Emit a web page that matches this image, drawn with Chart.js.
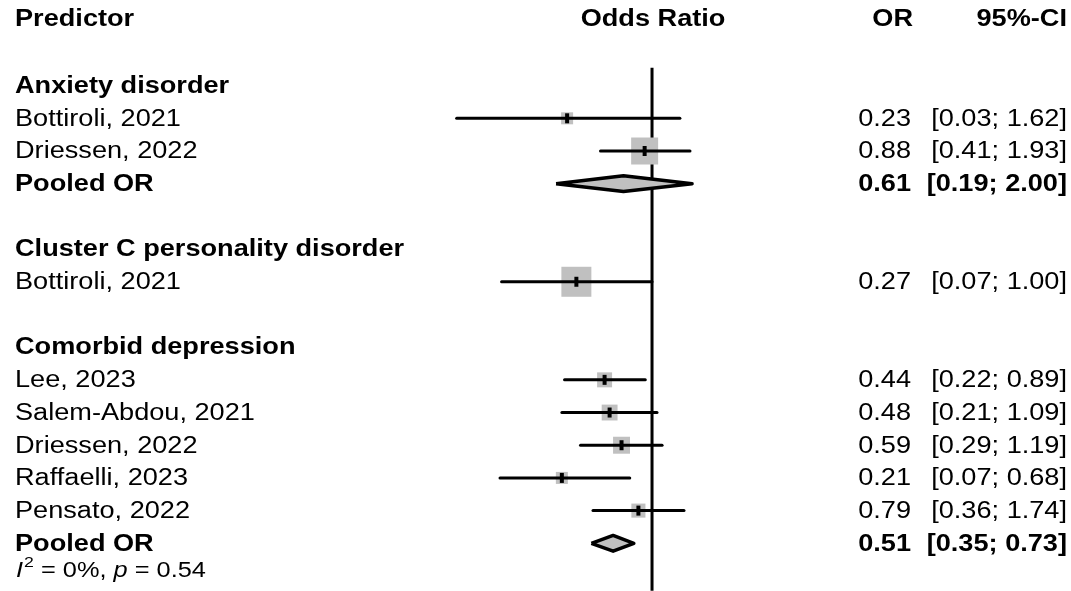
<!DOCTYPE html>
<html>
<head>
<meta charset="utf-8">
<script src="https://cdn.jsdelivr.net/npm/chart.js@4/dist/chart.umd.min.js"></script>
<style>
  html,body{margin:0;padding:0;background:#fff;}
  #wrap{width:1071px;height:591px;position:relative;}
</style>
</head>
<body>
<div id="wrap"><canvas id="c" width="1071" height="591"></canvas></div>
<script>
// ---------------- DATA ----------------
const groups = ["Anxiety disorder", "Cluster C personality disorder", "Comorbid depression"];
const studyNames = ["Bottiroli, 2021", "Driessen, 2022", "Bottiroli, 2021", "Lee, 2023", "Salem-Abdou, 2021", "Driessen, 2022", "Raffaelli, 2023", "Pensato, 2022"];
const studyGroup = [0, 0, 1, 2, 2, 2, 2, 2];
const studyOR = [0.23, 0.88, 0.27, 0.44, 0.48, 0.59, 0.21, 0.79];
const studyLo = [0.034, 0.41, 0.074, 0.22, 0.21, 0.29, 0.072, 0.36];
const studyHi = [1.62, 1.93, 1.00, 0.89, 1.09, 1.19, 0.68, 1.74];
const studyWeight = [16, 81, 100, 25, 28, 32, 16, 22];
const pooledGroup = [0, 2];
const pooledOR = [0.61, 0.51];
const pooledLo = [0.19, 0.35];
const pooledHi = [2.00, 0.73];
const hetGroup = 2;
const hetI2 = "0%";
const hetP = "0.54";
const headers = ["Predictor", "Odds Ratio", "OR", "95%-CI"];
const refValue = 1;

// ---------------- LAYOUT (rows) ----------------
const rows = [];
let r = 0;
const studyRow = [], pooledRow = {};
groups.forEach((g, gi) => {
  rows.push({y: r++, label: g, bold: true});
  studyNames.forEach((s, si) => {
    if (studyGroup[si] === gi) {
      studyRow[si] = r;
      rows.push({y: r++, label: s, bold: false, or: studyOR[si], lo: studyLo[si], hi: studyHi[si]});
    }
  });
  const pi = pooledGroup.indexOf(gi);
  if (pi >= 0) {
    pooledRow[pi] = r;
    rows.push({y: r++, label: "Pooled OR", bold: true, or: pooledOR[pi], lo: pooledLo[pi], hi: pooledHi[pi]});
  }
  r++; // blank
});
const lastRow = pooledRow[1];

const f2 = v => v.toFixed(2);
const BLACK = "#000000", GREY = "#c0c0c0";

// ---------------- DATASETS ----------------
const datasets = [];
datasets.push({
  type: 'line', data: [{x: refValue, y: -0.55}, {x: refValue, y: 15.45}],
  borderColor: BLACK, borderWidth: 3, pointRadius: 0, showLine: true, order: 10
});
datasets.push({
  type: 'scatter',
  data: studyOR.map((v, i) => ({x: v, y: studyRow[i]})),
  pointStyle: 'rect',
  pointRadius: studyWeight.map(w => 30 * Math.sqrt(w / 100) / Math.SQRT2),
  backgroundColor: GREY, borderColor: GREY, borderWidth: 0, order: 8
});
studyOR.forEach((v, i) => {
  datasets.push({
    type: 'line', data: [{x: studyLo[i], y: studyRow[i]}, {x: studyHi[i], y: studyRow[i]}],
    borderColor: BLACK, borderWidth: 3, pointRadius: 0, showLine: true, borderCapStyle: 'round', order: 6
  });
});
datasets.push({
  type: 'scatter',
  data: studyOR.map((v, i) => ({x: v, y: studyRow[i]})),
  pointStyle: 'line', rotation: 90, pointRadius: 5,
  borderColor: BLACK, borderWidth: 4, order: 4
});
const dh = 0.24;
pooledOR.forEach((v, i) => {
  const y = pooledRow[i];
  datasets.push({
    type: 'line',
    data: [{x: pooledLo[i], y: y}, {x: v, y: y - dh}, {x: pooledHi[i], y: y}, {x: v, y: y + dh}, {x: pooledLo[i], y: y}],
    borderColor: BLACK, borderWidth: 3.5, backgroundColor: GREY, fill: 'shape',
    pointRadius: 0, showLine: true, borderJoinStyle: 'round', tension: 0, order: 2
  });
});

// ---------------- TEXT PLUGIN ----------------
const FONT = '"Liberation Sans", Arial, Helvetica, sans-serif';
const SX = 1.18;
function txt(ctx, s, x, y, align, size, bold, italic) {
  ctx.save();
  ctx.font = (italic ? 'italic ' : '') + (bold ? 'bold ' : '') + size + 'px ' + FONT;
  ctx.textAlign = align;
  ctx.textBaseline = 'middle';
  ctx.fillStyle = BLACK;
  ctx.translate(x, y);
  ctx.scale(SX, 1);
  ctx.fillText(s, 0, 0);
  const w = ctx.measureText(s).width * SX;
  ctx.restore();
  return w;
}
const textPlugin = {
  id: 'forestText',
  afterDraw(chart) {
    const ctx = chart.ctx;
    const ys = chart.scales.y, xs = chart.scales.x;
    const py = v => ys.getPixelForValue(v) + 1;
    const LX = 15, ORX = 911, CIX = 1067, FS = 23;
    const hy = ys.getPixelForValue(-2.02);
    txt(ctx, headers[0], LX, hy, 'left', FS, true);
    txt(ctx, headers[1], xs.getPixelForValue(refValue) + 1, hy, 'center', FS, true);
    txt(ctx, headers[2], 913, hy, 'right', FS, true);
    txt(ctx, headers[3], CIX, hy, 'right', FS, true);
    rows.forEach(row => {
      const y = py(row.y);
      txt(ctx, row.label, LX, y, 'left', FS, row.bold);
      if (row.or !== undefined) {
        txt(ctx, f2(row.or), ORX, y, 'right', FS, row.bold);
        txt(ctx, '[' + f2(row.lo) + '; ' + f2(row.hi) + ']', CIX, y, 'right', FS, row.bold);
      }
    });
    const hy2 = ys.getPixelForValue(lastRow + 0.85);
    const HS = 21.5;
    let x = LX + 1;
    x += txt(ctx, 'I', x, hy2, 'left', HS, false, true) + 1;
    x += txt(ctx, '2', x, hy2 - 8, 'left', 15, false);
    x += txt(ctx, ' = ' + hetI2 + ', ', x, hy2, 'left', HS, false);
    x += txt(ctx, 'p', x, hy2, 'left', HS, false, true);
    txt(ctx, ' = ' + hetP, x, hy2, 'left', HS, false);
  }
};

// ---------------- CHART ----------------
const X_MIN = 0.02, X_MAX = 3;
new Chart(document.getElementById('c'), {
  type: 'scatter',
  data: {datasets},
  options: {
    responsive: false,
    animation: false,
    events: [],
    layout: {autoPadding: false, padding: {left: 426, right: 355.5, top: 3.9, bottom: 0.3}},
    scales: {
      x: {type: 'logarithmic', min: X_MIN, max: X_MAX, display: false},
      y: {type: 'linear', min: -2.5, max: 15.45, reverse: true, display: false}
    },
    plugins: {legend: {display: false}, tooltip: {enabled: false}},
    elements: {line: {tension: 0}},
    clip: false
  },
  plugins: [textPlugin]
});
</script>
</body>
</html>
